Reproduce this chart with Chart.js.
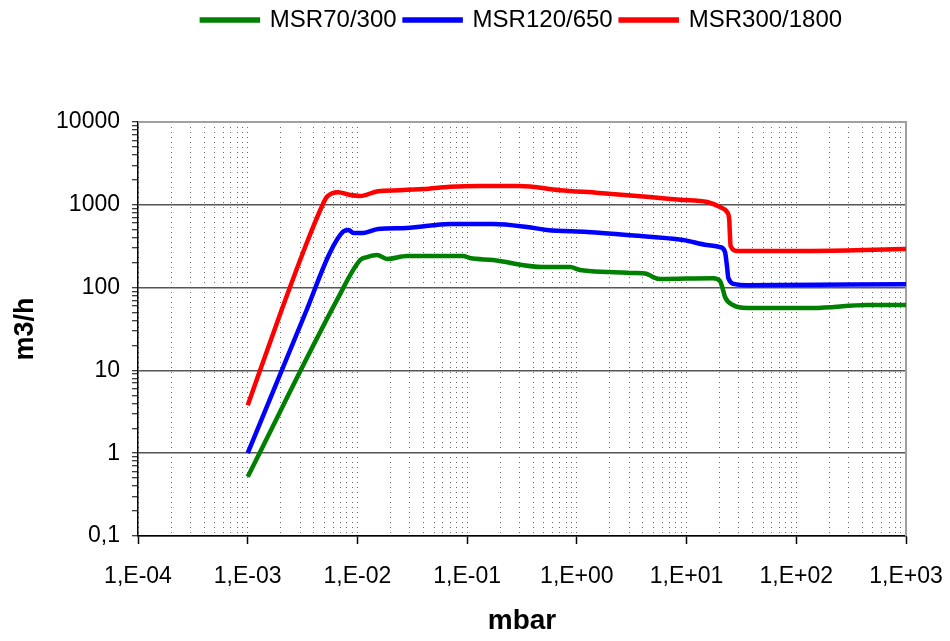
<!DOCTYPE html>
<html>
<head>
<meta charset="utf-8">
<script src="https://cdn.jsdelivr.net/npm/chart.js@4/dist/chart.umd.min.js"></script>
<style>
  body { margin: 0; background: #fff; }
  #wrap { width: 950px; height: 641px; }
</style>
</head>
<body>
<div id="wrap"><canvas id="myChart" width="950" height="641"></canvas></div>
<script>
// pressure (mbar) / pumping speed (m3/h)
var names = ['MSR70/300', 'MSR120/650', 'MSR300/1800'];
var colors = ['#008000', '#0000ff', '#ff0000'];

var pGreen = [0.001, 0.00652, 0.0106, 0.01225, 0.0151, 0.0186, 0.0283, 0.092, 0.106, 0.172, 0.492, 0.867, 1.07, 2.01, 3.25, 4.36, 4.95, 5.73, 17.5, 20.2, 21.5, 22.4, 26.5, 35.6, 142, 442, 1000];
var qGreen = [0.52, 71, 215, 234, 248, 222, 241, 241, 228, 215, 177, 177, 163, 154, 150, 146, 134, 127, 130, 120, 93.5, 77, 61.6, 56.7, 56.7, 61.6, 61.6];

var pBlue = [0.001, 0.00345, 0.0056, 0.0074, 0.0083, 0.0092, 0.0113, 0.0154, 0.028, 0.07, 0.172, 0.352, 0.534, 1.24, 2.87, 9.3, 15.4, 20.2, 22.4, 23.4, 24.0, 27.7, 35.6, 1000];
var qBlue = [1.0, 54, 262, 473, 496, 457, 457, 510, 525, 587, 587, 540, 496, 469, 432, 376, 327, 309, 269, 177, 131, 110, 107, 110];

var pRed = [0.001, 0.00204, 0.00345, 0.00473, 0.00525, 0.00666, 0.0086, 0.0106, 0.0154, 0.024, 0.04, 0.07, 0.13, 0.3, 0.7, 1.6, 4.6, 8.7, 15.4, 20.2, 23.4, 24.5, 24.8, 25.2, 28.9, 35.6, 140, 1000];
var qRed = [3.8, 54, 346, 948, 1240, 1420, 1310, 1280, 1460, 1500, 1550, 1650, 1690, 1690, 1500, 1390, 1240, 1150, 1080, 940, 818, 655, 450, 320, 277, 276, 277, 292];

var xDecades = [1e-4, 1e-3, 1e-2, 1e-1, 1, 10, 100, 1000];
var yDecades = [0.1, 1, 10, 100, 1000, 10000];

function toPoints(p, q) {
    var out = [];
    for (var i = 0; i < p.length; i++) {
        out.push({ x: p[i], y: q[i] });
    }
    return out;
}

// 1..9 per decade, for minor grid / ticks
function logTicks(decades) {
    var t = [];
    for (var i = 0; i < decades.length - 1; i++) {
        for (var m = 1; m < 10; m++) {
            t.push({ value: m * decades[i] });
        }
    }
    t.push({ value: decades[decades.length - 1] });
    return t;
}

function isDecade(v) {
    var l = Math.log10(v);
    return Math.abs(l - Math.round(l)) < 1e-9;
}

Chart.defaults.font.family = '"Liberation Sans", Arial, sans-serif';
Chart.defaults.color = '#000';

var frame = {
    id: 'frame',
    beforeUpdate: function (chart) {
        // force legend block height so the plot starts where it does in the picture
        if (chart.legend && !chart.legend._fixed) {
            var fit = chart.legend.fit;
            chart.legend.fit = function () {
                fit.call(this);
                this.height = 122;
            };
            chart.legend._fixed = true;
        }
    },
    beforeDatasetsDraw: function (chart) {
        var ctx = chart.ctx;
        var a = chart.chartArea;
        ctx.save();
        ctx.strokeStyle = '#a0a0a0';
        ctx.lineWidth = 2;
        ctx.beginPath();
        ctx.moveTo(a.left, a.top);
        ctx.lineTo(a.right, a.top);
        ctx.lineTo(a.right, a.bottom);
        ctx.stroke();
        ctx.restore();
    }
};

var ctx = document.getElementById('myChart').getContext('2d');
var series = [[pGreen, qGreen], [pBlue, qBlue], [pRed, qRed]];
var datasets = [];
for (var k = 0; k < series.length; k++) {
    datasets.push({
        label: names[k],
        data: toPoints(series[k][0], series[k][1]),
        borderColor: colors[k],
        backgroundColor: colors[k],
        borderWidth: 4.5,
        pointRadius: 0,
        fill: false,
        cubicInterpolationMode: 'monotone'
    });
}

var myChart = new Chart(ctx, {
    type: 'line',
    data: { datasets: datasets },
    plugins: [frame],
    options: {
        responsive: false,
        animation: false,
        layout: { padding: { top: 0, right: 44, bottom: 0, left: 0 } },
        plugins: {
            tooltip: { enabled: false },
            legend: {
                position: 'top',
                fullSize: false,
                labels: {
                    boxWidth: 56,
                    boxHeight: 1,
                    padding: 8,
                    color: '#000',
                    font: { size: 24 }
                }
            }
        },
        scales: {
            x: {
                type: 'logarithmic',
                min: 1e-4,
                max: 1000,
                afterBuildTicks: function (axis) { axis.ticks = logTicks(xDecades); },
                afterFit: function (axis) { axis.height = 105; },
                border: { display: true, color: '#000', width: 1.5, dash: [1, 4] },
                grid: {
                    color: '#666',
                    lineWidth: 1,
                    tickLength: 8,
                    tickWidth: 1.5,
                    tickColor: function (c) { return isDecade(c.tick.value) ? '#000' : 'rgba(0,0,0,0)'; }
                },
                ticks: {
                    autoSkip: false,
                    maxRotation: 0,
                    padding: 7,
                    font: { size: 23, lineHeight: 2.2 },
                    callback: function (v) {
                        if (!isDecade(v)) return '';
                        var e = Math.round(Math.log10(v));
                        var s = Math.abs(e) < 10 ? '0' + Math.abs(e) : '' + Math.abs(e);
                        return '1,E' + (e < 0 ? '-' : '+') + s;
                    }
                },
                title: {
                    display: true,
                    text: 'mbar',
                    font: { size: 28, weight: 'bold' },
                    padding: { top: 0, bottom: 3 }
                }
            },
            y: {
                type: 'logarithmic',
                min: 0.1,
                max: 10000,
                afterBuildTicks: function (axis) { axis.ticks = logTicks(yDecades); },
                afterFit: function (axis) { axis.width = 138; },
                border: { display: true, color: '#000', width: 1.5 },
                grid: {
                    color: function (c) {
                        if (!isDecade(c.tick.value)) return 'rgba(0,0,0,0)';
                        return c.tick.value >= 10000 ? '#a0a0a0' : '#555';
                    },
                    lineWidth: 1.5,
                    tickLength: 6,
                    tickWidth: 1,
                    tickColor: '#000'
                },
                ticks: {
                    autoSkip: false,
                    padding: 12,
                    font: { size: 23 },
                    callback: function (v) {
                        if (!isDecade(v)) return '';
                        return v < 1 ? '0,1' : String(Math.round(v));
                    }
                },
                title: {
                    display: true,
                    text: 'm3/h',
                    font: { size: 27, weight: 'bold' },
                    padding: { top: 9, bottom: 0 }
                }
            }
        }
    }
});
</script>
</body>
</html>
